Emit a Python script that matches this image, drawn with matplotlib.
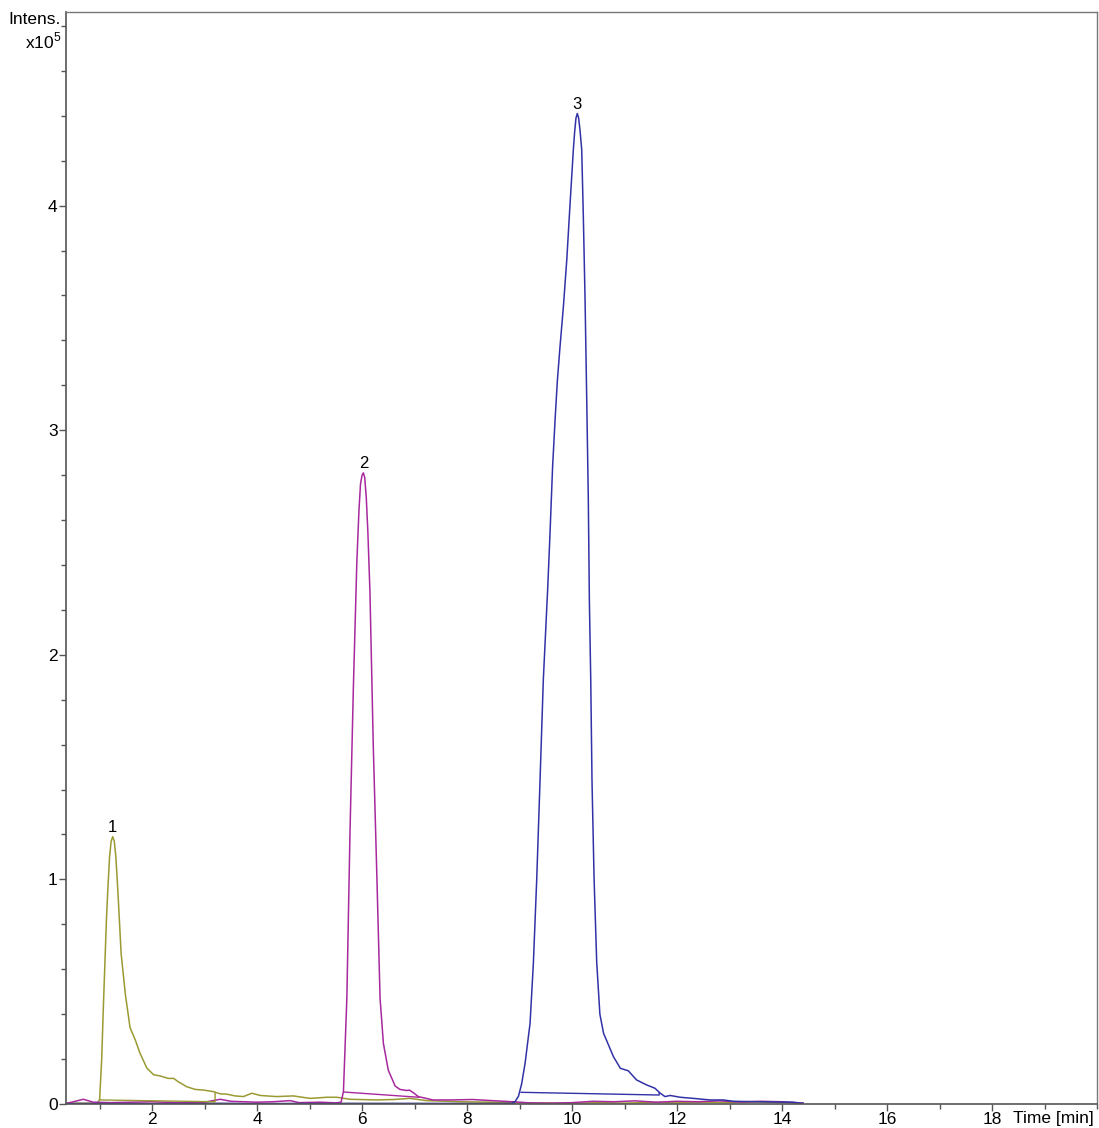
# -*- coding: utf-8 -*-
"""
Extracted ion chromatogram, three traces with integration baselines.
"""
import matplotlib
matplotlib.use('Agg')
import matplotlib.pyplot as plt
from matplotlib.ticker import MultipleLocator

plt.rcParams['font.family'] = ['Liberation Sans', 'DejaVu Sans']
plt.rcParams['mathtext.fontset'] = 'custom'
plt.rcParams['mathtext.rm'] = 'Liberation Sans'

# Trace 1 (olive) - time [min], intensity [x10^5]
olive_t = [0.36, 0.6, 0.8, 0.95, 1.0, 1.04, 1.07, 1.1, 1.13, 1.16, 1.19, 1.22,
           1.25, 1.28, 1.31, 1.35, 1.41, 1.49, 1.58, 1.68, 1.77, 1.9, 2.03,
           2.15, 2.31, 2.41, 2.5, 2.66, 2.82, 2.98, 3.17, 3.3, 3.42, 3.58,
           3.74, 3.9, 4.06, 4.37, 4.69, 5.01, 5.33, 5.52, 5.77, 6.28, 6.6,
           6.91, 7.23, 7.87, 8.5, 9.0, 9.5, 10.0, 10.5, 11.0, 11.5, 12.0,
           12.5, 13.0, 13.5, 14.0, 14.4]
olive_i = [0.002, 0.003, 0.003, 0.004, 0.018, 0.20, 0.42, 0.62, 0.82, 0.97,
           1.10, 1.17, 1.19, 1.17, 1.10, 0.94, 0.67, 0.49, 0.34, 0.285, 0.226,
           0.16, 0.13, 0.125, 0.114, 0.114, 0.099, 0.077, 0.065, 0.062, 0.055,
           0.045, 0.044, 0.036, 0.033, 0.048, 0.038, 0.033, 0.036, 0.025,
           0.03, 0.03, 0.021, 0.018, 0.02, 0.025, 0.015, 0.01, 0.008, 0.005,
           0.004, 0.003, 0.006, 0.004, 0.007, 0.005, 0.008, 0.006, 0.009,
           0.006, 0.003]

# Trace 2 (magenta)
mag_t = [0.36, 0.5, 0.69, 0.88, 1.2, 1.6, 2.0, 2.5, 3.0, 3.3, 3.5, 4.0, 4.3,
         4.63, 4.8, 5.2, 5.5, 5.6, 5.645, 5.71, 5.77, 5.835, 5.9, 5.94, 5.97,
         6.0, 6.025, 6.05, 6.08, 6.11, 6.15, 6.215, 6.28, 6.343, 6.406, 6.5,
         6.63, 6.72, 6.85, 6.9, 6.98, 7.07, 7.35, 7.7, 8.1, 8.4, 8.87, 9.2,
         9.6, 10.0, 10.4, 10.8, 11.2, 11.6, 12.0, 12.4, 12.8, 13.2, 13.6,
         14.0, 14.4]
mag_i = [0.002, 0.01, 0.021, 0.008, 0.006, 0.008, 0.01, 0.006, 0.008, 0.021,
         0.012, 0.008, 0.01, 0.015, 0.006, 0.008, 0.005, 0.008, 0.055, 0.47,
         1.21, 1.86, 2.41, 2.64, 2.76, 2.80, 2.81, 2.79, 2.70, 2.55, 2.28,
         1.58, 1.03, 0.47, 0.27, 0.15, 0.08, 0.065, 0.06, 0.062, 0.05, 0.033,
         0.018, 0.018, 0.02, 0.016, 0.01, 0.005, 0.004, 0.006, 0.012, 0.01,
         0.014, 0.008, 0.012, 0.01, 0.014, 0.009, 0.012, 0.01, 0.004]

# Trace 3 (blue)
blue_t = [0.36, 1.0, 2.0, 3.0, 4.0, 5.0, 6.0, 7.0, 8.0, 8.5, 8.85, 8.92,
          8.98, 9.04, 9.105, 9.2, 9.263, 9.327, 9.39, 9.453, 9.537, 9.58,
          9.63, 9.68, 9.72, 9.77, 9.835, 9.9, 9.96, 10.025, 10.05, 10.075,
          10.1, 10.125, 10.15, 10.184, 10.215, 10.248, 10.28, 10.31, 10.33,
          10.356, 10.38, 10.42, 10.47, 10.53, 10.6, 10.79, 10.92, 11.07,
          11.23, 11.42, 11.58, 11.68, 11.77, 11.87, 12.06, 12.31, 12.63,
          12.88, 13.07, 13.58, 14.2, 14.4]
blue_i = [0.001, 0.002, 0.001, 0.002, 0.001, 0.002, 0.001, 0.002, 0.002,
          0.002, 0.003, 0.012, 0.035, 0.09, 0.181, 0.359, 0.626, 1.0, 1.44,
          1.89, 2.3, 2.54, 2.84, 3.06, 3.22, 3.37, 3.55, 3.76, 4.0, 4.25,
          4.33, 4.39, 4.41, 4.39, 4.34, 4.25, 3.95, 3.58, 3.13, 2.69, 2.24,
          1.89, 1.44, 1.0, 0.63, 0.40, 0.315, 0.21, 0.159, 0.148, 0.107,
          0.085, 0.07, 0.048, 0.033, 0.038, 0.03, 0.025, 0.018, 0.018, 0.012,
          0.01, 0.008, 0.003]

# dark trace lying on the zero line
navy_t = [0.36, 1.5, 3.0, 4.5, 6.0, 7.5, 8.9]
navy_i = [0.001, 0.0, 0.001, 0.0, 0.001, 0.0, 0.001]

# integration baselines
base1_t = [1.0, 3.2, 3.2]
base1_i = [0.018, 0.01, 0.048]
base2_t = [5.67, 7.08]
base2_i = [0.053, 0.03]
base3_t = [9.03, 11.66, 11.66]
base3_i = [0.052, 0.04, 0.05]

peak_names = ['1', '2', '3']
peak_t = [1.24, 6.025, 10.1]
peak_i = [1.19, 2.81, 4.41]

OLIVE = '#9a9a32'
MAGENTA = '#a8289e'
BLUE = '#3232a8'
NAVY = '#10105a'

#------------------------------------------------------------------------------
fig = plt.figure(figsize=(10.99, 11.28), dpi=100)
ax = fig.add_axes([66/1099, 1 - 1104/1128, (1097 - 66)/1099, (1104 - 12)/1128])

ax.plot(navy_t, navy_i, color=NAVY, lw=1.6)
ax.plot(olive_t, olive_i, color=OLIVE, lw=1.1)
ax.plot(mag_t, mag_i, color=MAGENTA, lw=1.1)
ax.plot(blue_t, blue_i, color=BLUE, lw=1.1)
ax.plot(base1_t, base1_i, color=OLIVE, lw=1.0)
ax.plot(base2_t, base2_i, color=MAGENTA, lw=1.0)
ax.plot(base3_t, base3_i, color=BLUE, lw=1.0)

for name, t, i in zip(peak_names, peak_t, peak_i):
    ax.annotate(name, (t, i), xytext=(0, 1), textcoords='offset points',
                ha='center', va='bottom', fontsize=12)

ax.set_xlim(0.36, 20.0)
ax.set_ylim(0, 4.862)

ax.set_xticks([2, 4, 6, 8, 10, 12, 14, 16, 18])
ax.xaxis.set_minor_locator(MultipleLocator(1))
ax.set_yticks([0, 1, 2, 3, 4])
ax.yaxis.set_minor_locator(MultipleLocator(0.2))

ax.tick_params(axis='both', which='major', length=5, width=1.0,
               color='#555555', labelsize=12.5, pad=1)
ax.tick_params(axis='both', which='minor', length=3.5, width=1.0,
               color='#555555')

for side in ['left', 'bottom']:
    ax.spines[side].set_color('#555555')
    ax.spines[side].set_linewidth(1.2)
for side in ['top', 'right']:
    ax.spines[side].set_color('#777777')
    ax.spines[side].set_linewidth(1.0)

fig.text(61/1099, 1 - 20/1128, 'Intens.', ha='right', va='center',
         fontsize=12.5)
fig.text(61/1099, 1 - 41/1128, r'x10$^\mathrm{5}$', ha='right', va='center',
         fontsize=12.5)
fig.text(1094/1099, 1 - 1119/1128, 'Time [min]', ha='right', va='center',
         fontsize=12.5)

fig.savefig('out.png', dpi=100)
